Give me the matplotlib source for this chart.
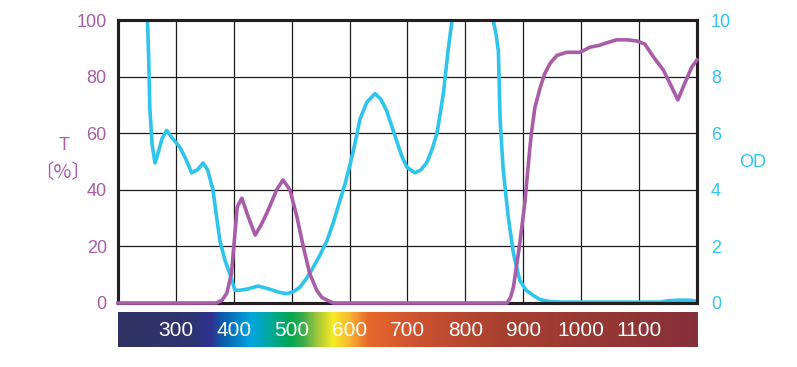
import numpy as np
import matplotlib
matplotlib.use('Agg')
from matplotlib import pyplot as plt
from matplotlib.colors import LinearSegmentedColormap

plt.rcParams['font.family'] = ['Liberation Sans', 'Noto Sans CJK JP', 'DejaVu Sans']

magenta = '#a95ca7'
cyan = '#2ec4ec'

# transmission T (%) vs wavelength (nm)
t_nm = [200, 370, 380, 388, 396, 402, 406, 414, 425, 437, 447, 457, 466, 474, 485, 497,
        509, 520, 531, 543, 552, 561, 572, 872, 878, 883, 894, 903, 911, 914, 920, 929,
        937, 946, 958, 975, 998, 1015, 1030, 1045, 1061, 1080, 1096, 1110, 1125, 1142,
        1153, 1167, 1179, 1191, 1200]
t_val = [0, 0, 1, 3.5, 10.5, 24.5, 34, 37, 30.5, 24, 27.5, 31.7, 36, 40, 43.5, 40,
         30.5, 20, 10.5, 4.6, 2, 1, 0, 0, 2, 5.6, 21, 36, 54, 60, 69, 76,
         81, 84.6, 87.5, 88.6, 88.6, 90.4, 91, 92, 93, 93, 92.6, 91.5, 86.9, 82.3,
         77.7, 71.8, 77.7, 83.4, 85.9]

# optical density OD vs wavelength (nm)
od_nm = [249, 251, 253, 255, 259, 264, 268, 276, 284, 295, 307, 317, 327, 337, 347, 355,
         364, 370, 376, 385, 393, 402, 411, 425, 442, 460, 480, 492, 503, 514, 525, 537,
         549, 561, 572, 583, 592, 601, 610, 618, 630, 644, 654, 664, 672, 681, 690, 699,
         713, 723, 733, 742, 751, 762, 770, 777, 790, 835, 848, 853, 857, 860, 865, 870,
         874, 883, 894, 905, 917, 929, 946, 970, 1000, 1050, 1100, 1136, 1150, 1170, 1185,
         1195, 1200]
od_val = [11, 10, 8.7, 6.9, 5.6, 4.95, 5.2, 5.8, 6.1, 5.8, 5.5, 5.1, 4.6, 4.7, 4.95, 4.7,
          4.0, 3.1, 2.2, 1.5, 1.05, 0.45, 0.45, 0.5, 0.6, 0.5, 0.37, 0.33, 0.4, 0.55, 0.85, 1.25,
          1.7, 2.2, 2.85, 3.6, 4.2, 4.9, 5.7, 6.5, 7.1, 7.4, 7.2, 6.8, 6.3, 5.75, 5.2, 4.8,
          4.6, 4.7, 4.95, 5.4, 6.0, 7.4, 8.9, 10, 11, 11, 10, 9.5, 8.9, 6.5, 4.8, 3.8,
          3.05, 1.75, 0.8, 0.45, 0.27, 0.12, 0.05, 0.03, 0.03, 0.03, 0.03, 0.03, 0.08, 0.1, 0.1,
          0.08, 0.05]

t_ticks = [0, 20, 40, 60, 80, 100]
od_ticks = [0, 2, 4, 6, 8, 10]
grid_nm = [300, 400, 500, 600, 700, 800, 900, 1000, 1100]

# spectrum strip
bar_labels = ['300', '400', '500', '600', '700', '800', '900', '1000', '1100']
spec_stops = [0.0, 0.124, 0.159, 0.181, 0.228, 0.262, 0.297, 0.320, 0.344, 0.371, 0.401,
              0.430, 0.516, 0.660, 1.0]
spec_colors = ['#2f3262', '#2f3470', '#2e3190', '#0b5eab', '#00a5e0', '#00a99a', '#00a651',
               '#3fae49', '#a8c83a', '#f7ec23', '#f8b133', '#e8692b', '#cc5231', '#a8402f',
               '#85303a']

fig = plt.figure(figsize=(7.97, 3.67), dpi=100)

ax_od = fig.add_axes([0.148, 0.1744, 0.7265, 0.771])
ax_t = ax_od.twinx()

ax_od.plot(od_nm, od_val, color=cyan, lw=2.6, solid_joinstyle='round')
ax_od.set_ylim(0, 10)
ax_od.set_xlim(200, 1200)
ax_od.set_yticks(od_ticks)
ax_od.yaxis.tick_right()
ax_od.tick_params(axis='y', colors=cyan, labelsize=13, length=0, pad=10)
ax_od.set_xticks(grid_nm)
ax_od.tick_params(axis='x', length=0, labelbottom=False)
ax_od.grid(True, color='#1a1a1a', lw=0.9)
ax_od.set_axisbelow(True)

ax_t.plot(t_nm, t_val, color=magenta, lw=2.6, clip_on=False, zorder=5, solid_joinstyle='round')
ax_t.set_ylim(0, 100)
ax_t.set_yticks(t_ticks)
ax_t.yaxis.tick_left()
ax_t.tick_params(axis='y', colors=magenta, labelsize=13, length=0, pad=8)

for a in (ax_od, ax_t):
    for s in a.spines.values():
        s.set_linewidth(2.2)
        s.set_color('#231f20')

fig.text(0.080, 0.603, 'T', color=magenta, fontsize=13, ha='center', va='center')
fig.text(0.078, 0.531, '〔%〕', color=magenta, fontsize=14, ha='center', va='center',
         family=['Noto Sans CJK JP', 'DejaVu Sans'])
fig.text(0.944, 0.556, 'OD', color=cyan, fontsize=13, ha='center', va='center')

# spectrum colour bar
ax_bar = fig.add_axes([0.148, 0.0545, 0.7265, 0.0954])
cmap = LinearSegmentedColormap.from_list('spec', list(zip(spec_stops, spec_colors)))
ax_bar.imshow(np.linspace(0, 1, 512).reshape(1, -1), cmap=cmap, aspect='auto',
              extent=[200, 1200, 0, 1])
ax_bar.set_xlim(200, 1200)
ax_bar.set_ylim(0, 1)
ax_bar.axis('off')
for lab, x in zip(bar_labels, grid_nm):
    ax_bar.text(x, 0.47, lab, color='white', fontsize=15, ha='center', va='center')

fig.savefig('out.png', dpi=100)
